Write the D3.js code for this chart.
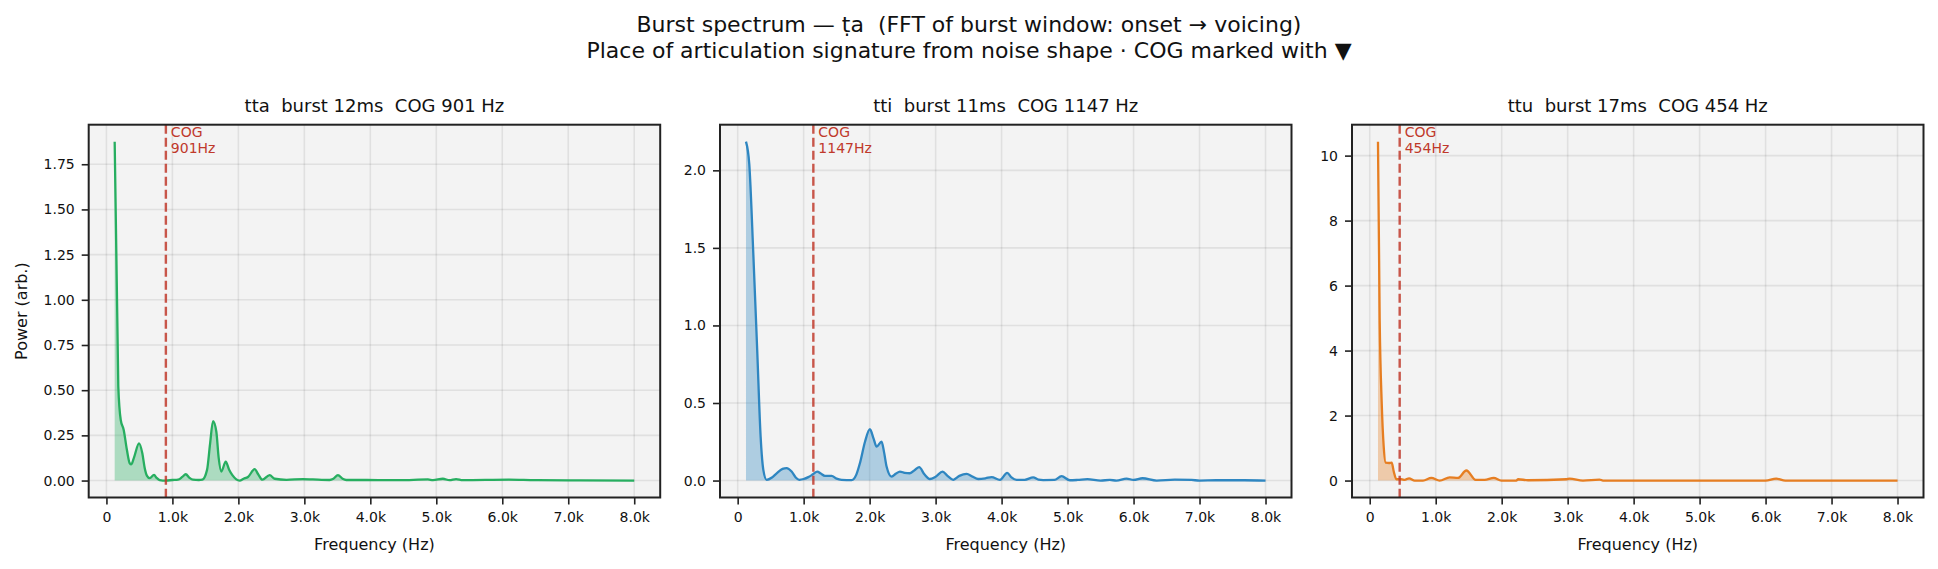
<!DOCTYPE html>
<html lang="en">
<head>
<meta charset="UTF-8"/>
<title>Burst spectrum</title>
<script src="https://d3js.org/d3.v7.min.js"></script>
<style>
    body { margin: 0; background: #fff; }
    text { font-family: "DejaVu Sans", sans-serif; fill: #111; white-space: pre; }
</style>
</head>
<body>
<script>

    // panel names / burst durations / centre of gravity (Hz)
    var tokens = ["tta", "tti", "ttu"];
    var burstMs = [12, 11, 17];
    var cogHz = [901, 1147, 454];
    var colors = ["#27ae60", "#2e86c1", "#e67e22"];

    // spectra (frequency in Hz, power arb.)
    var ttaFreq = [125, 180, 217, 262, 310, 353, 377, 420, 494, 544, 580, 615, 656, 722, 760, 807, 900, 1000, 1085, 1150, 1202, 1260, 1313, 1400, 1454, 1525, 1570, 1616, 1666, 1700, 1742, 1808, 1860, 1909, 2020, 2080, 2146, 2247, 2300, 2363, 2474, 2550, 2730, 2979, 3130, 3383, 3440, 3509, 3580, 3636, 3940, 4440, 4873, 4950, 5100, 5200, 5300, 5400, 6100, 6500, 7000, 8000];
    var ttaPower = [1.875, 0.52, 0.335, 0.28, 0.17, 0.096, 0.09, 0.13, 0.206, 0.151, 0.07, 0.026, 0.013, 0.031, 0.015, 0.003, 0.0, 0.003, 0.005, 0.02, 0.035, 0.015, 0.005, 0.003, 0.005, 0.059, 0.2, 0.329, 0.27, 0.13, 0.05, 0.105, 0.06, 0.03, 0.0, 0.01, 0.02, 0.063, 0.035, 0.005, 0.03, 0.01, 0.004, 0.008, 0.006, 0.003, 0.01, 0.03, 0.01, 0.003, 0.003, 0.002, 0.006, 0.002, 0.01, 0.002, 0.008, 0.002, 0.005, 0.002, 0.001, 0.0];

    var ttiFreq = [126, 176, 237, 298, 348, 389, 439, 520, 591, 680, 742, 818, 880, 934, 1000, 1070, 1140, 1206, 1260, 1322, 1424, 1500, 1575, 1727, 1800, 1853, 1930, 2004, 2060, 2106, 2181, 2220, 2257, 2333, 2400, 2459, 2530, 2610, 2690, 2751, 2830, 2913, 3000, 3106, 3180, 3267, 3360, 3469, 3560, 3645, 3760, 3848, 3975, 4085, 4150, 4227, 4350, 4479, 4560, 4630, 4800, 4909, 5035, 5150, 5300, 5500, 5640, 5740, 5893, 6000, 6136, 6350, 6625, 6878, 7000, 7250, 7680, 8000];
    var ttiPower = [2.185, 2.04, 1.464, 0.82, 0.283, 0.069, 0.005, 0.02, 0.047, 0.075, 0.08, 0.058, 0.02, 0.005, 0.01, 0.022, 0.04, 0.058, 0.045, 0.03, 0.03, 0.012, 0.005, 0.003, 0.04, 0.112, 0.25, 0.331, 0.27, 0.219, 0.251, 0.18, 0.09, 0.025, 0.045, 0.058, 0.05, 0.047, 0.07, 0.086, 0.04, 0.01, 0.025, 0.058, 0.03, 0.005, 0.03, 0.043, 0.025, 0.01, 0.015, 0.022, 0.005, 0.05, 0.02, 0.004, 0.005, 0.02, 0.006, 0.003, 0.004, 0.028, 0.002, 0.004, 0.009, 0.0, 0.004, 0.0, 0.013, 0.004, 0.015, 0.0, 0.006, 0.004, 0.0, 0.002, 0.002, 0.0];

    var ttuFreq = [125, 151, 182, 212, 242, 293, 333, 364, 404, 480, 530, 596, 682, 808, 934, 1060, 1212, 1338, 1465, 1606, 1742, 1879, 1995, 2222, 2250, 2400, 2980, 3030, 3232, 3484, 3535, 4000, 6000, 6161, 6300, 8000];
    var ttuPower = [10.43, 4.93, 2.37, 1.04, 0.55, 0.54, 0.55, 0.28, 0.04, 0.04, 0.02, 0.07, 0.0, 0.0, 0.08, 0.0, 0.1, 0.08, 0.31, 0.02, 0.02, 0.08, 0.0, 0.0, 0.04, 0.01, 0.04, 0.06, 0.0, 0.03, 0.0, 0.0, 0.0, 0.06, 0.0, 0.0];

    // tick labels
    var xTicks = [0, 1000, 2000, 3000, 4000, 5000, 6000, 7000, 8000];
    var yTicks = [
        [0, 0.25, 0.5, 0.75, 1.0, 1.25, 1.5, 1.75],
        [0, 0.5, 1.0, 1.5, 2.0],
        [0, 2, 4, 6, 8, 10]
    ];
    var yFormats = [".2f", ".1f", "d"];

    var freqs = [ttaFreq, ttiFreq, ttuFreq];
    var powers = [ttaPower, ttiPower, ttuPower];

    var w = 1938;
    var h = 569;
    var panelLeft = [88.7, 720, 1352];
    var panelW = 571.5;
    var panelTop = 124.7;
    var panelH = 372.8;

    var svg = d3.select("body")
        .append("svg")
        .attr("width", w)
        .attr("height", h);

    // figure title
    svg.append("text")
        .attr("x", w / 2).attr("y", 32)
        .attr("text-anchor", "middle")
        .attr("font-size", "22px")
        .text("Burst spectrum \u2014 \u1e6da  (FFT of burst window: onset \u2192 voicing)");
    svg.append("text")
        .attr("x", w / 2).attr("y", 58)
        .attr("text-anchor", "middle")
        .attr("font-size", "22px")
        .text("Place of articulation signature from noise shape \u00b7 COG marked with \u25bc");

    tokens.forEach(function(tok, i) {
        var f = freqs[i];
        var p = powers[i];
        var data = f.map(function(d, j) { return [d, p[j]]; });

        var fmin = d3.min(f), fmax = d3.max(f);
        var pmax = d3.max(p);

        var xScale = d3.scaleLinear()
            .domain([fmin - 0.05 * (fmax - fmin), fmax + 0.05 * (fmax - fmin)])
            .range([0, panelW]);
        var yScale = d3.scaleLinear()
            .domain([-0.05 * pmax, pmax * 1.05])
            .range([panelH, 0]);

        var g = svg.append("g")
            .attr("transform", "translate(" + panelLeft[i] + "," + panelTop + ")");

        g.append("rect")
            .attr("width", panelW)
            .attr("height", panelH)
            .attr("fill", "#f3f3f3");

        // grid
        g.selectAll(".vgrid")
            .data(xTicks)
            .enter()
            .append("line")
            .attr("x1", function(d) { return xScale(d); })
            .attr("x2", function(d) { return xScale(d); })
            .attr("y1", 0).attr("y2", panelH)
            .attr("stroke", "#000").attr("stroke-opacity", 0.08).attr("stroke-width", 1.6);
        g.selectAll(".hgrid")
            .data(yTicks[i])
            .enter()
            .append("line")
            .attr("y1", function(d) { return yScale(d); })
            .attr("y2", function(d) { return yScale(d); })
            .attr("x1", 0).attr("x2", panelW)
            .attr("stroke", "#000").attr("stroke-opacity", 0.08).attr("stroke-width", 1.6);

        // spectrum fill + line
        var area = d3.area()
            .x(function(d) { return xScale(d[0]); })
            .y0(yScale(0))
            .y1(function(d) { return yScale(d[1]); })
            .curve(d3.curveMonotoneX);
        var line = d3.line()
            .x(function(d) { return xScale(d[0]); })
            .y(function(d) { return yScale(d[1]); })
            .curve(d3.curveMonotoneX);

        g.append("path")
            .datum(data)
            .attr("d", area)
            .attr("fill", colors[i])
            .attr("fill-opacity", 0.35);
        g.append("path")
            .datum(data)
            .attr("d", line)
            .attr("fill", "none")
            .attr("stroke", colors[i])
            .attr("stroke-width", 2.3)
            .attr("stroke-linejoin", "round");

        // COG marker
        g.append("line")
            .attr("x1", xScale(cogHz[i])).attr("x2", xScale(cogHz[i]))
            .attr("y1", 0).attr("y2", panelH)
            .attr("stroke", "#c0392b")
            .attr("stroke-opacity", 0.85)
            .attr("stroke-width", 2.4)
            .attr("stroke-dasharray", "9,4");
        var cogText = g.append("text")
            .attr("x", xScale(cogHz[i]) + 5)
            .attr("y", 12)
            .attr("font-size", "14px")
            .style("fill", "#c0392b");
        cogText.append("tspan").attr("x", xScale(cogHz[i]) + 5).attr("dy", 0).text("COG");
        cogText.append("tspan").attr("x", xScale(cogHz[i]) + 5).attr("dy", 16.5).text(cogHz[i] + "Hz");

        // axes
        var xAxis = d3.axisBottom(xScale)
            .tickValues(xTicks)
            .tickSize(7)
            .tickPadding(8)
            .tickFormat(function(d) { return d === 0 ? "0" : d3.format(".1f")(d / 1000) + "k"; });
        var yAxis = d3.axisLeft(yScale)
            .tickValues(yTicks[i])
            .tickSize(7)
            .tickPadding(7)
            .tickFormat(d3.format(yFormats[i]));

        var gx = g.append("g")
            .attr("transform", "translate(0," + panelH + ")")
            .call(xAxis);
        var gy = g.append("g").call(yAxis);
        [gx, gy].forEach(function(a) {
            a.select(".domain").remove();
            a.selectAll(".tick line").attr("stroke", "#222").attr("stroke-width", 1.6);
            a.selectAll(".tick text")
                .attr("font-size", "14px")
                .attr("font-family", "DejaVu Sans, sans-serif")
                .style("fill", "#111");
        });

        // frame
        g.append("rect")
            .attr("width", panelW)
            .attr("height", panelH)
            .attr("fill", "none")
            .attr("stroke", "#222")
            .attr("stroke-width", 2);

        // panel title
        g.append("text")
            .attr("x", panelW / 2).attr("y", -13)
            .attr("text-anchor", "middle")
            .attr("font-size", "18px")
            .text(tok + "  burst " + burstMs[i] + "ms  COG " + cogHz[i] + " Hz");

        g.append("text")
            .attr("x", panelW / 2).attr("y", panelH + 53)
            .attr("text-anchor", "middle")
            .attr("font-size", "16px")
            .text("Frequency (Hz)");

        if (i === 0) {
            g.append("text")
                .attr("transform", "translate(" + (-62) + "," + (panelH / 2) + ") rotate(-90)")
                .attr("text-anchor", "middle")
                .attr("font-size", "16px")
                .text("Power (arb.)");
        }
    });
</script>
</body>
</html>
